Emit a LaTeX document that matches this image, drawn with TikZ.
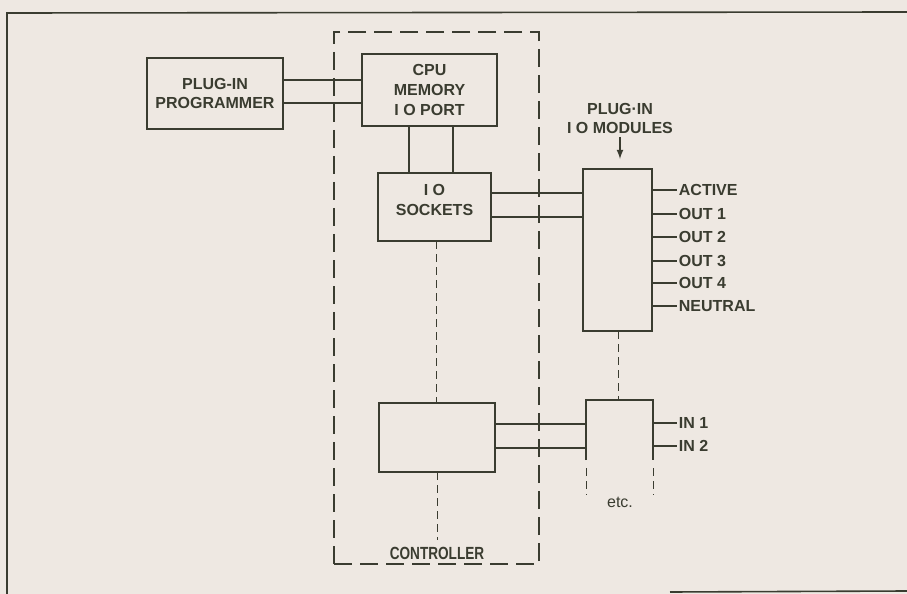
\documentclass[tikz,border=0pt]{standalone}
\usepackage{fontspec}
\setmainfont{Liberation Sans}
\definecolor{paper}{HTML}{EEE8E2}
\definecolor{ink}{HTML}{3A3C30}

\begin{document}
\begin{tikzpicture}[
    x=0.5pt, y=-0.5pt,
    >=latex,
    line width=0.9pt,
    color=ink,
    box/.style={draw, rectangle, inner sep=0pt, outer sep=0pt, align=center, font=\bfseries\fontsize{8}{9.8}\selectfont},
    boxtext/.style={align=center, inner sep=1pt, font=\bfseries\fontsize{8}{9.8}\selectfont},
    pinlabel/.style={anchor=west, inner sep=0.5pt, font=\bfseries\fontsize{8}{9.8}\selectfont},
    dashline/.style={line width=0.5pt, dash pattern=on 4pt off 2.5pt}
]
  % Hoja y marco
  \fill[paper] (0,0) rectangle (907,594);
  \useasboundingbox (0,0) rectangle (907,594);
  \draw[line width=0.8pt] (907,12) -- (7,13) -- (7,594);
  \draw[line width=0.8pt] (670,592) -- (907,591);

  % Controlador
  \node[draw, line width=0.6pt, dash pattern=on 9pt off 4pt, minimum width=102.5pt, minimum height=266pt, inner sep=0pt, outer sep=0pt] (ctrl) at (436.5,298) {};
  \node[boxtext] (ctrllab) at (437,553) {\scalebox{0.85}[1.1]{CONTROLLER}};

  % Bloques
  \node[box, minimum width=68pt, minimum height=35.5pt] (prog) at (215,93.5) {PLUG-IN\\PROGRAMMER};
  \node[box, minimum width=67.5pt, minimum height=36pt] (cpu) at (429.5,90) {CPU\\MEMORY\\I O PORT};
  \node[box, minimum width=56.5pt, minimum height=34pt] (sock) at (434.5,207) {};
  \node[boxtext] (socklab) at (434.5,200) {I O\\SOCKETS};
  \node[box, minimum width=58pt, minimum height=34.5pt] (iob) at (437,437.5) {};

  % Modulos
  \node[box, minimum width=34.5pt, minimum height=81pt] (mod) at (617.5,250) {};
  \node[boxtext] (modlab) at (620,118.5) {PLUG·IN\\I O MODULES};
  \draw[->, line width=0.6pt, shorten >=5pt] (modlab.south) -- (modlab.south |- mod.north);

  \node[minimum width=33.5pt, minimum height=30pt, inner sep=0pt, outer sep=0pt] (modb) at (619.5,430) {};
  \draw (modb.south west) -- (modb.north west) -- (modb.north east) -- (modb.south east);
  \coordinate (modbl) at (586,495);
  \coordinate (modbr) at (653,495);
  \draw[dashline] ([yshift=-4pt]modb.south west) -- (modbl);
  \draw[dashline] ([yshift=-4pt]modb.south east) -- (modbr);
  \node[font=\fontsize{8}{9.8}\selectfont] (etc) at (620,502) {etc.};

  % Buses dobles
  \draw (prog.east |- 0,80) -- (cpu.west |- 0,80);
  \draw (prog.east |- 0,103) -- (cpu.west |- 0,103);
  \draw (sock.east |- 0,193) -- (mod.west |- 0,193);
  \draw (sock.east |- 0,217) -- (mod.west |- 0,217);
  \draw (iob.east |- 0,424) -- (modb.west |- 0,424);
  \draw (iob.east |- 0,448) -- (modb.west |- 0,448);
  \draw (cpu.south -| 409,0) -- (sock.north -| 409,0);
  \draw (cpu.south -| 453,0) -- (sock.north -| 453,0);

  % Lineas discontinuas
  \coordinate (ctrlbot) at (437,540);
  \draw[dashline] (sock.south -| 436,0) -- (iob.north -| 436,0);
  \draw[dashline] (iob.south -| 437,0) -- (ctrlbot);
  \draw[dashline] (mod.south -| 618,0) -- (modb.north -| 618,0);

  % Salidas
  \node[pinlabel] (act) at (677,190) {ACTIVE};
  \node[pinlabel] (out1) at (677,214) {OUT 1};
  \node[pinlabel] (out2) at (677,237) {OUT 2};
  \node[pinlabel] (out3) at (677,261) {OUT 3};
  \node[pinlabel] (out4) at (677,283) {OUT 4};
  \node[pinlabel] (neu) at (677,306) {NEUTRAL};
  \draw (mod.east |- act) -- (act.west);
  \draw (mod.east |- out1) -- (out1.west);
  \draw (mod.east |- out2) -- (out2.west);
  \draw (mod.east |- out3) -- (out3.west);
  \draw (mod.east |- out4) -- (out4.west);
  \draw (mod.east |- neu) -- (neu.west);

  % Entradas
  \node[pinlabel] (in1) at (677,423) {IN 1};
  \node[pinlabel] (in2) at (677,446) {IN 2};
  \draw (modb.east |- in1) -- (in1.west);
  \draw (modb.east |- in2) -- (in2.west);

\end{tikzpicture}
\end{document}
